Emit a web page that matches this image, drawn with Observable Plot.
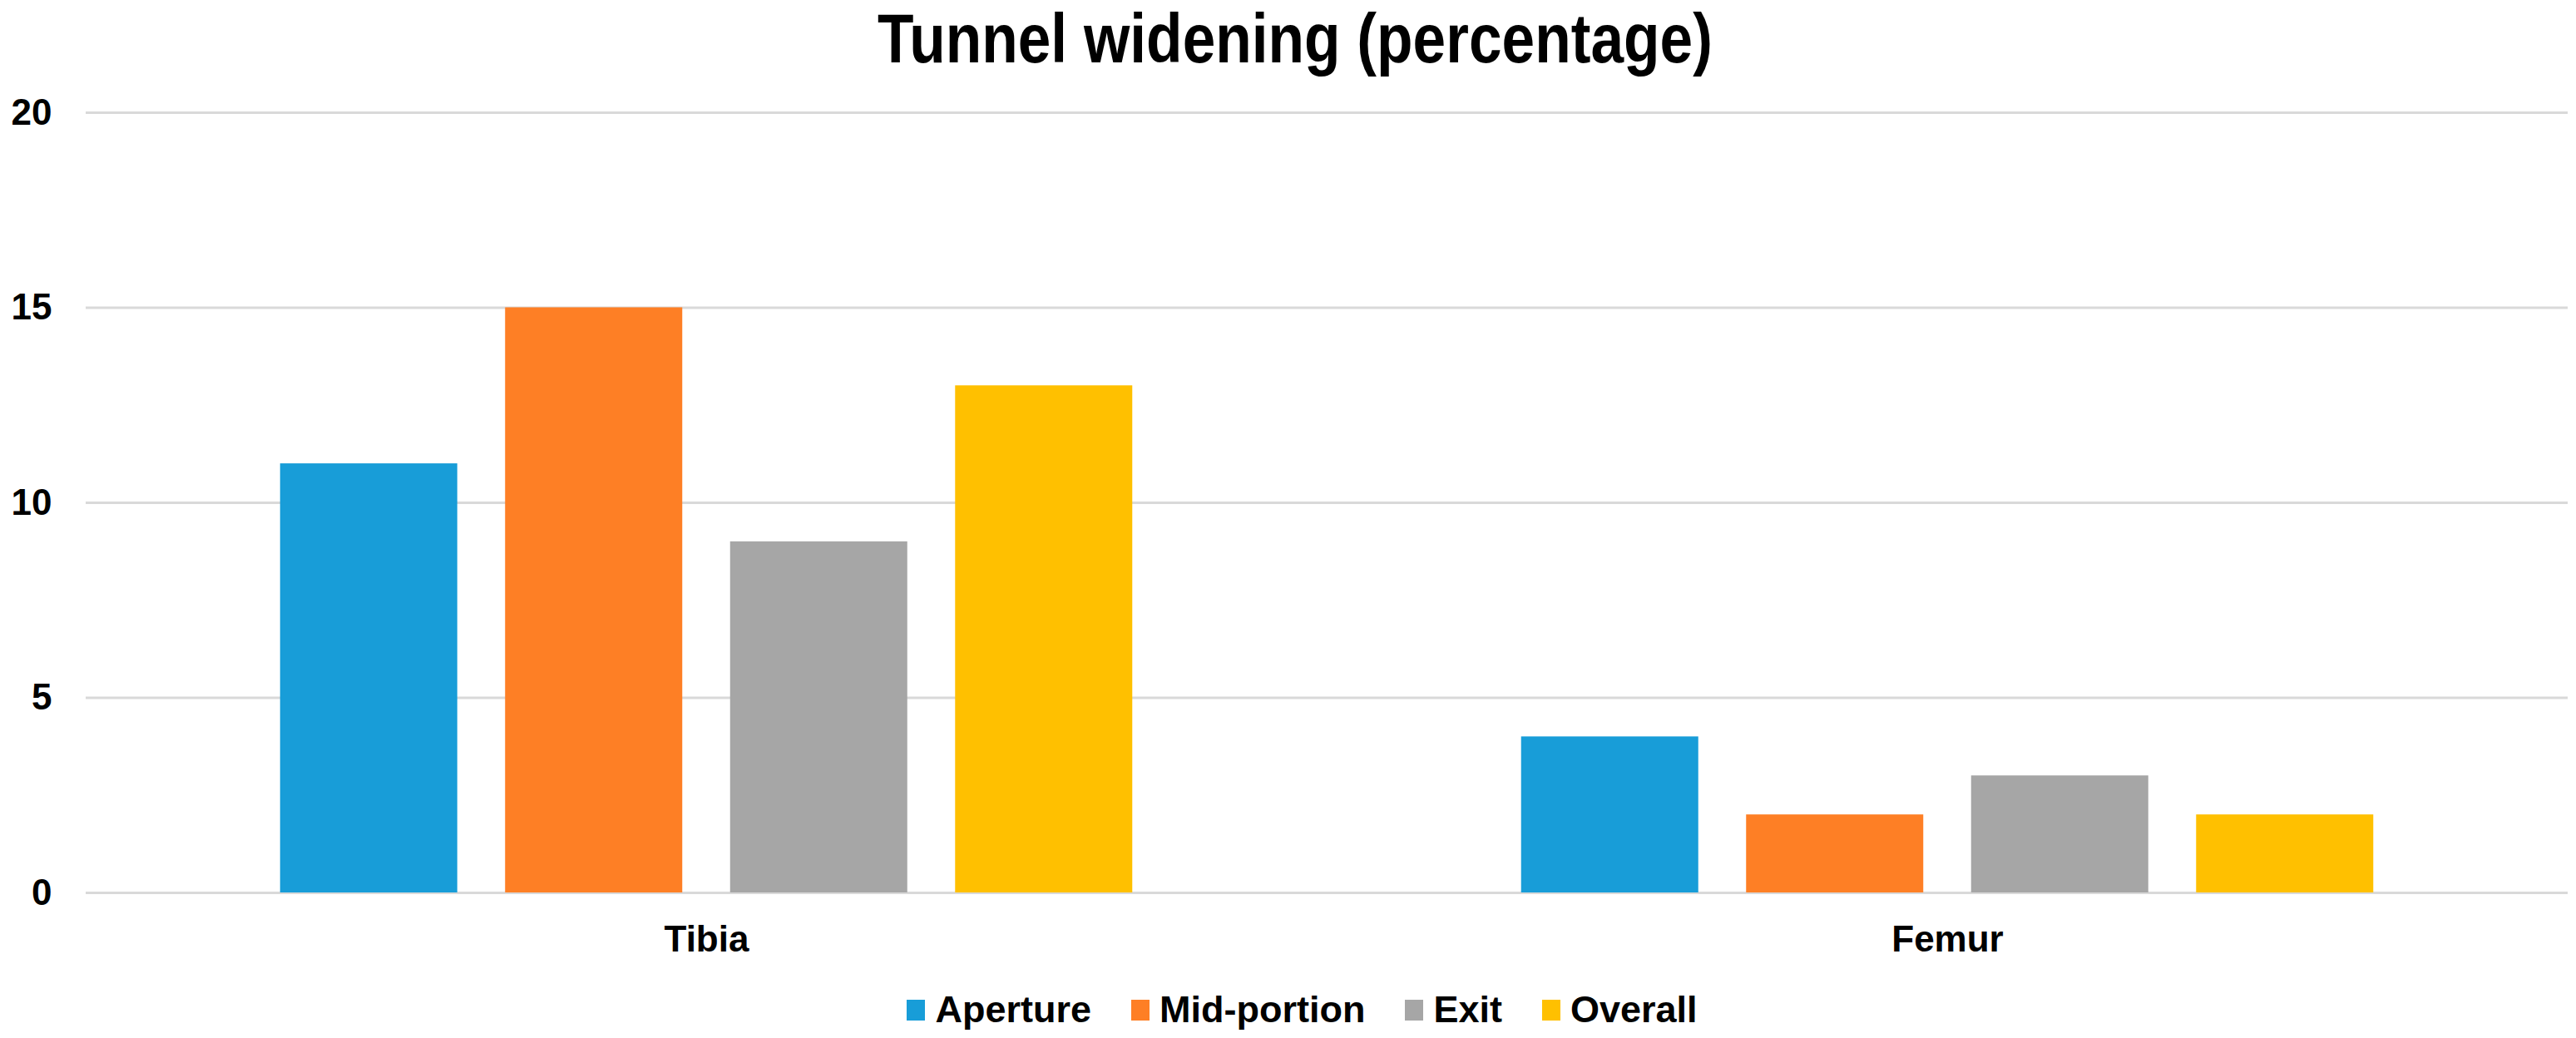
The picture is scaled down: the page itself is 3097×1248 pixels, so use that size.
<!DOCTYPE html>
<html>
<head>
<meta charset="utf-8">
<script src="https://cdn.jsdelivr.net/npm/d3@7"></script>
<script src="https://cdn.jsdelivr.net/npm/@observablehq/plot@0.6"></script>
<style>
html, body { margin: 0; padding: 0; background: #fff; width: 3097px; height: 1248px; overflow: hidden;
  font-family: "Liberation Sans", Arial, sans-serif; }
#title { height: 100px; line-height: 100px; text-align: center; font-weight: bold; font-size: 84px; color: #000; white-space: nowrap; }
#title span { display: inline-block; transform: scaleX(0.848); position: relative; top: -4px; left: 8px; }
#chart svg { display: block; }
#legend { height: 68px; display: flex; justify-content: center; align-items: center; padding-left: 34px; box-sizing: border-box;
  font-weight: bold; font-size: 45px; color: #000; }
.item { display: flex; align-items: center; margin: 0 24px; }
.sw { width: 22px; height: 25px; margin-right: 12px; }
</style>
</head>
<body>
<div id="title"><span>Tunnel widening (percentage)</span></div>
<div id="chart"></div>
<div id="legend"></div>
<script>
const categories = ["Tibia", "Femur"];
const seriesNames = ["Aperture", "Mid-portion", "Exit", "Overall"];
const aperture = [11, 4];
const midPortion = [15, 2];
const exit = [9, 3];
const overall = [13, 2];
const yTicks = [0, 5, 10, 15, 20];
const colors = ["#189dd8", "#fe7f25", "#a6a6a6", "#ffc000"];

const seriesValues = [aperture, midPortion, exit, overall];
const data = [];
categories.forEach((c, i) => {
  seriesNames.forEach((s, j) => {
    data.push({cat: c, series: s, value: seriesValues[j][i]});
  });
});

const chart = Plot.plot({
  width: 3097,
  height: 1080,
  marginTop: 35,
  marginBottom: 107,
  marginLeft: 103,
  marginRight: 10,
  style: {fontFamily: "'Liberation Sans', Arial, sans-serif", fontSize: "44px", fontWeight: "bold", color: "#000", background: "#fff"},
  fx: {domain: categories, padding: 0, round: false, label: null, axis: "bottom", tickSize: 0, tickPadding: 39},
  x: {domain: seriesNames, paddingInner: 0.2126, paddingOuter: 0.864, round: false, axis: null},
  y: {domain: [0, 20], ticks: yTicks, label: null, tickSize: 0, tickPadding: 41},
  color: {domain: seriesNames, range: colors},
  marks: [
    Plot.ruleY(yTicks, {stroke: "#d9d9d9", strokeWidth: 3}),
    Plot.barY(data, {fx: "cat", x: "series", y: "value", fill: "series"})
  ]
});
document.getElementById("chart").appendChild(chart);

const legend = document.getElementById("legend");
seriesNames.forEach((s, i) => {
  const item = document.createElement("div");
  item.className = "item";
  const sw = document.createElement("div");
  sw.className = "sw";
  sw.style.background = colors[i];
  const t = document.createElement("span");
  t.textContent = s;
  item.appendChild(sw);
  item.appendChild(t);
  legend.appendChild(item);
});
</script>
</body>
</html>
